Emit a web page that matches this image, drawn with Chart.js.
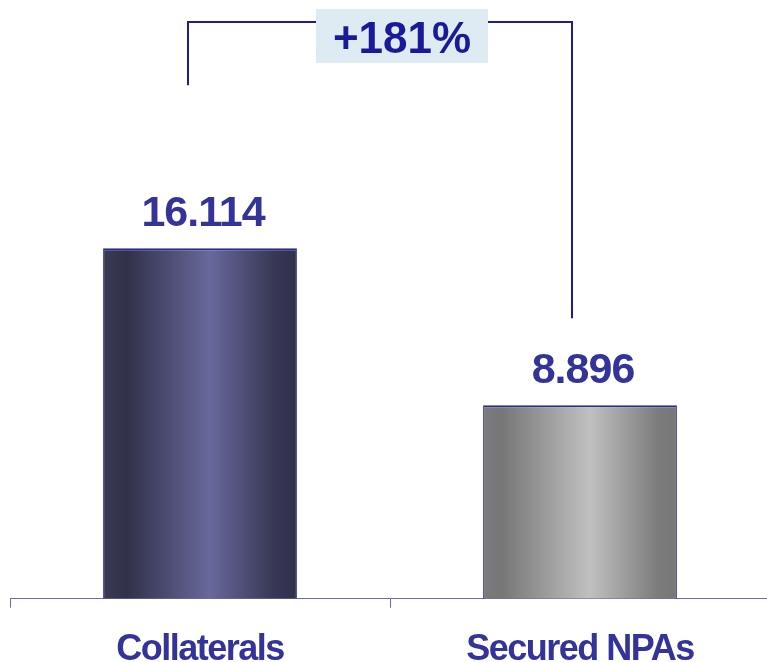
<!DOCTYPE html>
<html>
<head>
<meta charset="utf-8">
<script src="https://cdn.jsdelivr.net/npm/chart.js@4/dist/chart.umd.min.js"></script>
<style>
    html, body { margin: 0; padding: 0; background: #fff; overflow: hidden; width: 767px; height: 662px; }
    #wrap { width: 770px; height: 693px; position: relative; }
</style>
</head>
<body>
<div id="wrap"><canvas id="npaChart"></canvas></div>
<script>
// Chart data
const categories = ['Collaterals', 'Secured NPAs'];
const values = [16.114, 8.896];
const valueLabels = ['16.114', '8.896'];
const changeLabel = '+181%';

const textBlue = '#333399';
const lineBlue = '#1c1c9c';
const fontFamily = '"Liberation Sans", Arial, sans-serif';
const barPct = 0.51;

// gradient stops for each bar (left -> right)
const barStops = [
    [[0, '#3a3a56'], [0.12, '#31314a'], [0.55, '#68689c'], [0.88, '#383856'], [1, '#30304a']],
    [[0, '#7a7a7a'], [0.1, '#777777'], [0.55, '#c0c0c0'], [0.9, '#7c7c7c'], [1, '#777777']]
];
let barGradients = [];

// build one horizontal gradient per bar once the x scale is laid out
const gradientPlugin = {
    id: 'barGradient',
    afterLayout(chart) {
        const ctx = chart.ctx;
        const xScale = chart.scales.x;
        const w = xScale.width / categories.length * barPct;
        barGradients = categories.map((c, i) => {
            const left = xScale.getPixelForValue(i) - w / 2;
            const g = ctx.createLinearGradient(left, 0, left + w, 0);
            barStops[i].forEach(s => g.addColorStop(s[0], s[1]));
            return g;
        });
    }
};

// tight letter spacing for axis labels
const spacingPlugin = {
    id: 'spacing',
    beforeDraw(chart) {
        chart.ctx.letterSpacing = '-1.5px';
    }
};

// value labels, bracket and change box
const annotationPlugin = {
    id: 'annotations',
    afterDatasetsDraw(chart) {
        const ctx = chart.ctx;
        const bars = chart.getDatasetMeta(0).data;
        const yScale = chart.scales.y;

        ctx.save();
        ctx.letterSpacing = '-1px';
        ctx.font = 'bold 43px ' + fontFamily;
        ctx.fillStyle = textBlue;
        ctx.textAlign = 'center';
        ctx.textBaseline = 'alphabetic';
        bars.forEach((bar, i) => {
            ctx.fillText(valueLabels[i], bar.x + 3, bar.y - 22);
        });

        // bracket
        const x1 = bars[0].x - 12;
        const x2 = bars[1].x - 8;
        const top = 22;
        const y1 = yScale.getPixelForValue(values[0]) - 163;
        const y2 = yScale.getPixelForValue(values[1]) - 87;
        ctx.strokeStyle = lineBlue;
        ctx.lineWidth = 2;
        ctx.beginPath();
        ctx.moveTo(x1, y1);
        ctx.lineTo(x1, top);
        ctx.lineTo(x2, top);
        ctx.lineTo(x2, y2);
        ctx.stroke();

        // change box
        const cx = (x1 + x2) / 2 + 22;
        ctx.fillStyle = '#deebf2';
        ctx.fillRect(cx - 86, 9, 172, 54);
        ctx.letterSpacing = '0px';
        ctx.font = 'bold 44px ' + fontFamily;
        ctx.fillStyle = '#1a1a99';
        ctx.fillText(changeLabel, cx, 53);
        ctx.restore();
    }
};

new Chart(document.getElementById('npaChart'), {
    type: 'bar',
    data: {
        labels: categories,
        datasets: [{
            data: values,
            backgroundColor: (c) => barGradients[c.dataIndex] || '#666699',
            borderColor: '#2a2a9a',
            borderWidth: { top: 2, left: 1, right: 1, bottom: 0 },
            borderSkipped: 'bottom',
            categoryPercentage: 1,
            barPercentage: barPct
        }]
    },
    options: {
        responsive: true,
        maintainAspectRatio: false,
        animation: false,
        events: [],
        layout: { padding: { left: 10, right: 0, top: 0, bottom: 0 } },
        plugins: {
            legend: { display: false },
            tooltip: { enabled: false }
        },
        scales: {
            x: {
                offset: true,
                border: { display: true, color: '#6a6ab8', width: 1 },
                grid: {
                    offset: true,
                    drawOnChartArea: false,
                    drawTicks: true,
                    tickLength: 9,
                    color: '#6a6ab8'
                },
                ticks: {
                    color: textBlue,
                    padding: 21,
                    font: { family: fontFamily, size: 36, weight: 'bold' }
                }
            },
            y: {
                display: false,
                min: 0,
                max: 27.53
            }
        }
    },
    plugins: [gradientPlugin, spacingPlugin, annotationPlugin]
});
</script>
</body>
</html>
